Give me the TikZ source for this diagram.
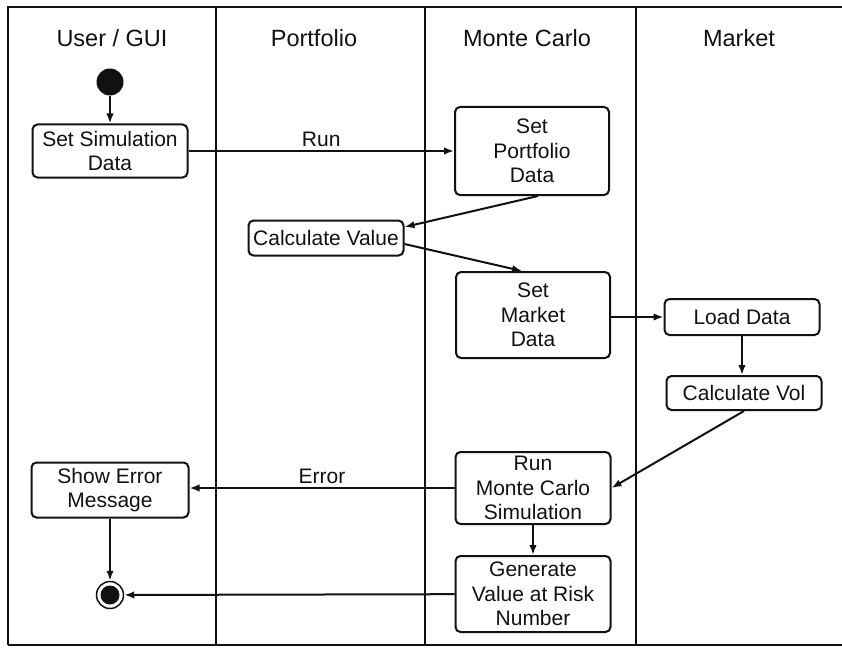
\documentclass[tikz,border=0pt]{standalone}
\usepackage{fontspec}
\setmainfont{Liberation Sans}
\usetikzlibrary{positioning,arrows.meta}
\definecolor{umlBlack}{HTML}{111111}

\begin{document}
\begin{tikzpicture}[x=1pt, y=-1pt, umlBlack,
    act/.style={draw, line width=2pt, rounded corners=5pt, align=center, inner sep=1pt, font=\fontsize{21}{24.5}\selectfont},
    flow/.style={arrows={-Latex[length=10pt,width=7.5pt]}, line width=2pt},
    lane/.style={line width=2.6pt},
    hdr/.style={font=\fontsize{23.5}{26}\selectfont},
    lbl/.style={font=\fontsize{21}{24}\selectfont, above},
    initial/.style={circle, fill, minimum size=27pt, inner sep=0pt},
    final/.style={circle, draw, line width=1.5pt, minimum size=27pt, inner sep=0pt,
        path picture={\fill (path picture bounding box.center) circle (9.5pt);}}]
    \useasboundingbox (0,0) rectangle (842,647);
    % swimlanes
    \draw[lane] (8,645) -- (8,7) -- (842,7);
    \draw[lane] (8,645) -- (842,645);
    \foreach \x in {216,425,636} {
        \draw[lane] (\x,7) -- (\x,645);
    }
    \node[hdr] (hdUser) at (112,38) {User / GUI};
    \node[hdr] (hdPortfolio) at (314,38) {Portfolio};
    \node[hdr] (hdMonte) at (527,38) {Monte Carlo};
    \node[hdr] (hdMarket) at (739,38) {Market};

    % activities
    \node[initial] (start) at (110,82) {};
    \node[act, minimum width=155pt, minimum height=53pt] (simData) at (110,151) {Set Simulation\\Data};
    \node[act, minimum width=154pt, minimum height=88pt] (portData) at (532,151) {Set\\Portfolio\\Data};
    \node[act, minimum width=155pt, minimum height=35pt] (calcValue) at (326,238) {Calculate Value};
    \node[act, minimum width=154pt, minimum height=86pt] (mktData) at (533,315) {Set\\Market\\Data};
    \node[act, minimum width=155pt, minimum height=36pt] (loadData) at (742,317) {Load Data};
    \node[act, minimum width=155pt, minimum height=34pt] (calcVol) at (744,393) {Calculate Vol};
    \node[act, minimum width=155pt, minimum height=72pt] (runMC) at (533,488) {Run\\Monte Carlo\\Simulation};
    \node[act, minimum width=157pt, minimum height=55pt] (showErr) at (110,490) {Show Error\\Message};
    \node[act, minimum width=155pt, minimum height=76pt] (genVaR) at (533,594) {Generate\\Value at Risk\\Number};
    \node[final] (stop) at (110,595) {};

    % transitions
    \draw[flow] (start) -- (simData);
    \draw[flow] (simData) -- node[lbl] {Run} (portData);
    \draw[flow] (portData.south -| 538,0) -- (calcValue.east |- 0,227);
    \draw[flow] (calcValue.east |- 0,244) -- (mktData.north -| 522,0);
    \draw[flow] (mktData.east |- loadData) -- (loadData);
    \draw[flow] (loadData) -- (calcVol.north -| loadData);
    \draw[flow] (calcVol.south) -- (runMC.east);
    \draw[flow] (runMC.west) -- node[lbl] {Error} (showErr.east |- runMC.west);
    \draw[flow] (runMC) -- (genVaR);
    \draw[flow] (genVaR) -- (stop);
    \draw[flow] (showErr) -- (stop);
\end{tikzpicture}
\end{document}
